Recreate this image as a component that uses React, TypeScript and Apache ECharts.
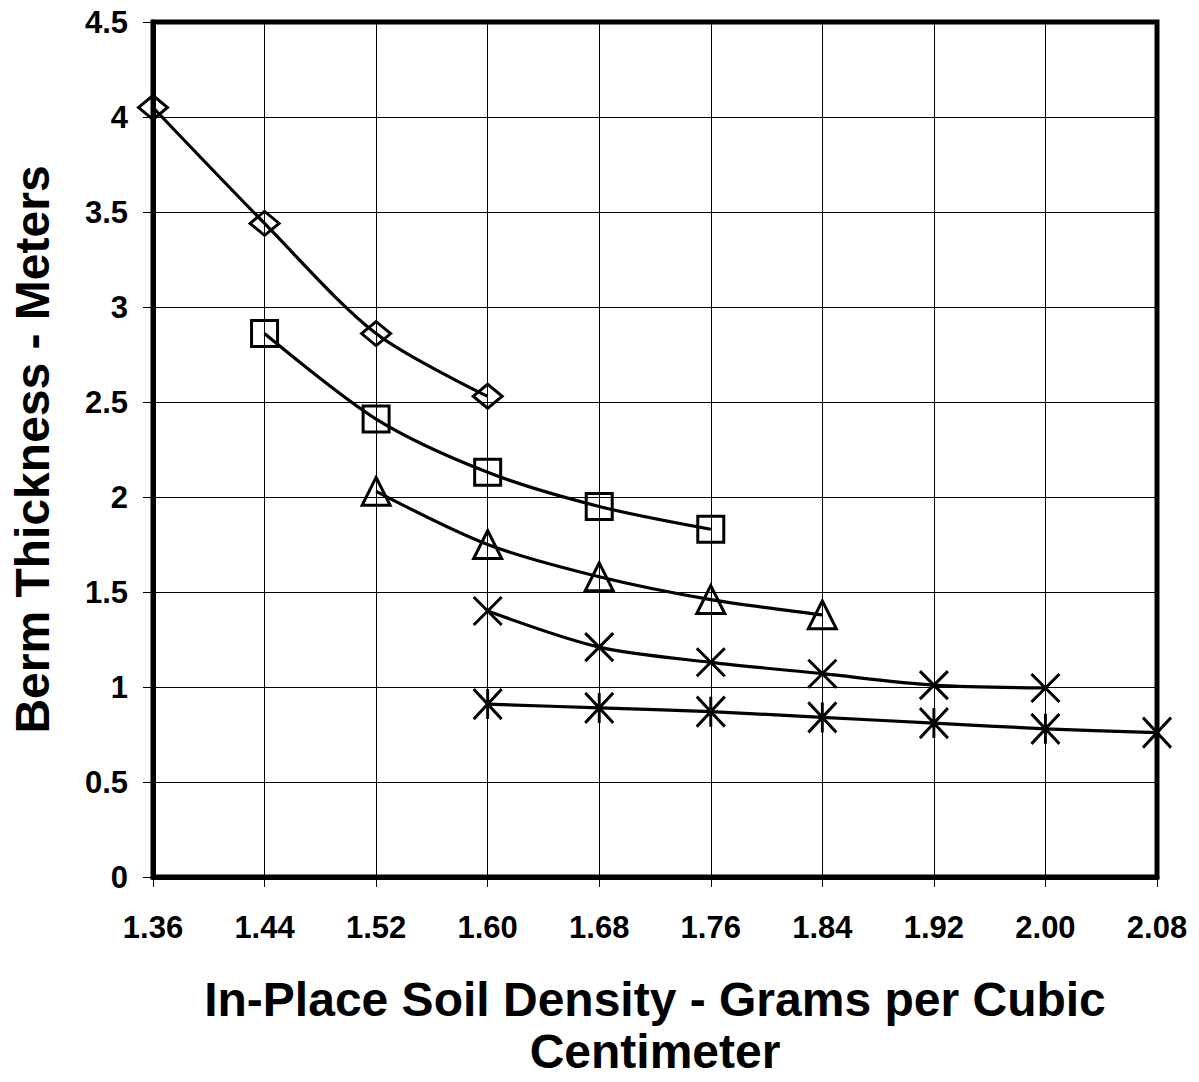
import React, { useEffect, useRef } from "react";
import * as echarts from "echarts";

const xTicks = [1.36, 1.44, 1.52, 1.6, 1.68, 1.76, 1.84, 1.92, 2.0, 2.08];

const diamondX = [1.36, 1.44, 1.52, 1.6];
const diamondY = [4.05, 3.44, 2.86, 2.53];

const squareX = [1.44, 1.52, 1.6, 1.68, 1.76];
const squareY = [2.86, 2.41, 2.13, 1.95, 1.83];

const triangleX = [1.52, 1.6, 1.68, 1.76, 1.84];
const triangleY = [2.03, 1.75, 1.58, 1.46, 1.38];

const crossX = [1.6, 1.68, 1.76, 1.84, 1.92, 2.0];
const crossY = [1.4, 1.21, 1.13, 1.07, 1.01, 0.995];

const starX = [1.6, 1.68, 1.76, 1.84, 1.92, 2.0, 2.08];
const starY = [0.91, 0.89, 0.87, 0.84, 0.81, 0.78, 0.76];

const FONT = "'Liberation Sans', Arial, sans-serif";

const pairs = (xs: number[], ys: number[]) => xs.map((x, i) => [x, ys[i]]);

const mkSeries = (name: string, xs: number[], ys: number[], symbol: string, size: any) => ({
  name,
  type: "line",
  data: pairs(xs, ys),
  smooth: 0.3,
  clip: false,
  symbol,
  symbolSize: size,
  showAllSymbol: true,
  lineStyle: { color: "#000", width: 3.2 },
  itemStyle: { color: "rgba(0,0,0,0)", borderColor: "#000", borderWidth: 3 },
  emphasis: { disabled: true },
  z: 5,
});

export default function App() {
  const ref = useRef<HTMLDivElement>(null);
  useEffect(() => {
    document.body.style.margin = "0";
    document.body.style.overflow = "hidden";
    document.documentElement.style.overflow = "hidden";
    if (!ref.current) return;
    const chart = echarts.init(ref.current, undefined, { renderer: "svg" });
    chart.setOption({
      animation: false,
      backgroundColor: "#fff",
      grid: {
        left: 151,
        right: 42,
        top: 22,
        bottom: 197,
        show: true,
        borderColor: "#000",
        borderWidth: 5,
        backgroundColor: "rgba(0,0,0,0)",
        z: 3,
      },
      xAxis: {
        type: "value",
        min: 1.36,
        max: 2.08,
        interval: 0.08,
        name: "In-Place Soil Density - Grams per Cubic\nCentimeter",
        nameLocation: "middle",
        nameGap: 96,
        nameTextStyle: {
          fontFamily: FONT,
          fontWeight: "bold",
          fontSize: 48,
          lineHeight: 52,
          color: "#000",
          verticalAlign: "top",
        },
        axisLine: { show: true, onZero: false, lineStyle: { color: "#000", width: 5 } },
        axisTick: { show: true, length: 10, lineStyle: { color: "#000", width: 1 } },
        axisLabel: {
          fontFamily: FONT,
          fontWeight: "bold",
          fontSize: 31,
          color: "#000",
          margin: 35,
          formatter: (v: number) => v.toFixed(2),
        },
        splitLine: { show: true, lineStyle: { color: "#000", width: 1 } },
      },
      yAxis: {
        type: "value",
        min: 0,
        max: 4.5,
        interval: 0.5,
        name: "Berm Thickness - Meters",
        nameLocation: "middle",
        nameGap: 97,
        nameTextStyle: {
          fontFamily: FONT,
          fontWeight: "bold",
          fontSize: 48,
          color: "#000",
        },
        axisLine: { show: true, lineStyle: { color: "#000", width: 5 } },
        axisTick: { show: true, length: 10, lineStyle: { color: "#000", width: 1 } },
        axisLabel: {
          fontFamily: FONT,
          fontWeight: "bold",
          fontSize: 31,
          color: "#000",
          margin: 25,
        },
        splitLine: { show: true, lineStyle: { color: "#000", width: 1 } },
      },
      series: [
        mkSeries("Diamond", diamondX, diamondY, "diamond", [29, 24]),
        mkSeries("Square", squareX, squareY, "rect", [26, 26]),
        mkSeries("Triangle", triangleX, triangleY, "triangle", [28, 28]),
        mkSeries("Cross", crossX, crossY, "path://M0,0L10,10M10,0L0,10", [28, 28]),
        mkSeries("Star", starX, starY, "path://M0,0L10,10M10,0L0,10M5,0L5,10", [28, 30]),
      ],
    });
    return () => chart.dispose();
  }, []);
  return <div ref={ref} style={{ width: 1199, height: 1082, background: "#fff" }} />;
}
